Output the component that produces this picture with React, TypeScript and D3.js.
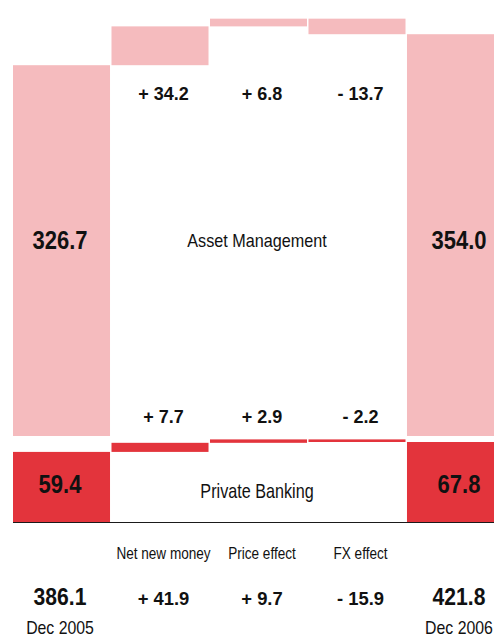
import React from "react";
import * as d3 from "d3";

const categories = ["Dec 2005", "Net new money", "Price effect", "FX effect", "Dec 2006"];
const kinds = ["total", "delta", "delta", "delta", "total"];
const assetManagement = [326.7, 34.2, 6.8, -13.7, 354.0];
const privateBanking = [59.4, 7.7, 2.9, -2.2, 67.8];
const grandTotals = [386.1, 41.9, 9.7, -15.9, 421.8];
const sectionNames = ["Asset Management", "Private Banking"];

const W = 494;
const H = 639;
const PINK = "#f5bbbe";
const RED = "#e3343c";
const FONT = "'Liberation Sans', Arial, Helvetica, sans-serif";

type Seg = { y0: number; y1: number; v: number; kind: string };

function waterfall(values: number[]): Seg[] {
  let run = 0;
  return values.map((v, i) => {
    if (kinds[i] === "total") {
      run = v;
      return { y0: 0, y1: v, v, kind: "total" };
    }
    const s = { y0: run, y1: run + v, v, kind: "delta" };
    run += v;
    return s;
  });
}

const fmtTotal = (v: number) => d3.format(".1f")(v);
const fmtDelta = (v: number) => (v >= 0 ? "+ " : "- ") + d3.format(".1f")(Math.abs(v));

function Txt(props: {
  x: number;
  y: number;
  text: string;
  size: number;
  bold?: boolean;
  sx?: number;
  anchor?: string;
}) {
  const { x, y, text, size, bold, sx = 1, anchor = "middle" } = props;
  return (
    <text
      transform={`translate(${x},${y}) scale(${sx},1)`}
      textAnchor={anchor}
      fontFamily={FONT}
      fontSize={size}
      fontWeight={bold ? 700 : 400}
      fill="#111"
    >
      {text}
    </text>
  );
}

export default function App() {
  const x = d3.scaleBand<string>().domain(categories).range([13, 504]).paddingInner(0.015).paddingOuter(0);
  const bw = x.bandwidth();
  const yAM = d3.scaleLinear().domain([0, 360]).range([436, 436 - 360 * 1.135]);
  const yPB = d3.scaleLinear().domain([0, 70]).range([522, 522 - 70 * 1.18]);

  const amSegs = waterfall(assetManagement);
  const pbSegs = waterfall(privateBanking);

  const cx = (i: number) => (x(categories[i]) as number) + bw / 2 + (i === 0 ? -1.5 : 3.5);

  const bars = (segs: Seg[], y: d3.ScaleLinear<number, number>, color: string, key: string) =>
    segs.map((s, i) => {
      const a = y(s.y0);
      const b = y(s.y1);
      return (
        <rect
          key={key + i}
          x={x(categories[i]) as number}
          width={bw}
          y={Math.min(a, b)}
          height={Math.abs(a - b)}
          fill={color}
        />
      );
    });

  return (
    <svg width={W} height={H} style={{ position: "absolute", left: 0, top: 0 }}>
      <rect width={W} height={H} fill="#fff" />
      {bars(amSegs, yAM, PINK, "am")}
      {bars(pbSegs, yPB, RED, "pb")}
      <line x1={13} x2={W} y1={yPB(0) + 0.5} y2={yPB(0) + 0.5} stroke="#1a1a1a" strokeWidth={1.2} />

      {/* Asset management labels */}
      {assetManagement.map((v, i) =>
        kinds[i] === "total" ? (
          <Txt key={"amt" + i} x={cx(i)} y={249} text={fmtTotal(v)} size={25} bold sx={0.88} />
        ) : (
          <Txt key={"amd" + i} x={cx(i)} y={100} text={fmtDelta(v)} size={18} bold />
        )
      )}
      <Txt x={257} y={247} text={sectionNames[0]} size={18.6} sx={0.87} />

      {/* Private banking labels */}
      {privateBanking.map((v, i) =>
        kinds[i] === "total" ? (
          <Txt key={"pbt" + i} x={cx(i)} y={493} text={fmtTotal(v)} size={25} bold sx={0.88} />
        ) : (
          <Txt key={"pbd" + i} x={cx(i)} y={423} text={fmtDelta(v)} size={18} bold />
        )
      )}
      <Txt x={257} y={498} text={sectionNames[1]} size={19.5} sx={0.83} />

      {/* Category labels & grand totals */}
      {categories.map((c, i) =>
        kinds[i] === "delta" ? (
          <Txt key={"cat" + i} x={cx(i)} y={559} text={c} size={15.6} sx={0.87} />
        ) : (
          <Txt key={"cat" + i} x={cx(i)} y={634} text={c} size={18} sx={0.88} />
        )
      )}
      {grandTotals.map((v, i) =>
        kinds[i] === "total" ? (
          <Txt key={"gt" + i} x={cx(i)} y={605} text={fmtTotal(v)} size={24} bold sx={0.88} />
        ) : (
          <Txt key={"gd" + i} x={cx(i)} y={605} text={fmtDelta(v)} size={19} bold sx={0.97} />
        )
      )}
    </svg>
  );
}
